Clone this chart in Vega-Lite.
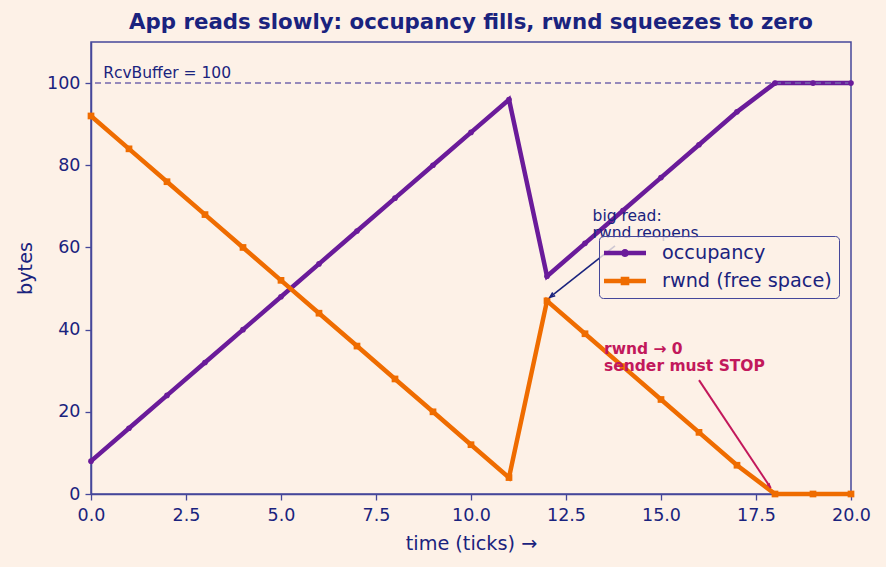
{
  "$schema": "https://vega.github.io/schema/vega-lite/v6.json",
  "autosize": {"type": "none"},
  "width": 760,
  "height": 452,
  "padding": {"left": 91, "top": 42, "right": 35, "bottom": 73},
  "background": "#fdf1e7",
  "title": {"text": "App reads slowly: occupancy fills, rwnd squeezes to zero", "font": "DejaVu Sans", "fontSize": 21.3, "fontWeight": "bold", "color": "#1a237e", "anchor": "middle", "frame": "group", "baseline": "alphabetic", "offset": 13, "dy": 21},
  "config": {
    "font": "DejaVu Sans",
    "view": {"stroke": "#45479a", "strokeWidth": 1.5, "fill": "#fdf1e7"},
    "axis": {"domainColor": "#45479a", "domainWidth": 1.5, "ticks": true, "tickColor": "#45479a", "tickWidth": 1.3, "tickSize": 6, "labelFont": "DejaVu Sans", "labelFontSize": 17.5, "labelColor": "#1a237e", "labelFlush": false, "titleFont": "DejaVu Sans", "titleFontSize": 19.25, "titleFontWeight": "normal", "titleColor": "#1a237e", "grid": false, "labelPadding": 4}
  },
  "datasets": {
    "series": [
      {"t": 0, "v": 8, "series": "occupancy"}, {"t": 1, "v": 16, "series": "occupancy"}, {"t": 2, "v": 24, "series": "occupancy"}, {"t": 3, "v": 32, "series": "occupancy"}, {"t": 4, "v": 40, "series": "occupancy"}, {"t": 5, "v": 48, "series": "occupancy"}, {"t": 6, "v": 56, "series": "occupancy"}, {"t": 7, "v": 64, "series": "occupancy"}, {"t": 8, "v": 72, "series": "occupancy"}, {"t": 9, "v": 80, "series": "occupancy"}, {"t": 10, "v": 88, "series": "occupancy"}, {"t": 11, "v": 96, "series": "occupancy"}, {"t": 12, "v": 53, "series": "occupancy"}, {"t": 13, "v": 61, "series": "occupancy"}, {"t": 14, "v": 69, "series": "occupancy"}, {"t": 15, "v": 77, "series": "occupancy"}, {"t": 16, "v": 85, "series": "occupancy"}, {"t": 17, "v": 93, "series": "occupancy"}, {"t": 18, "v": 100, "series": "occupancy"}, {"t": 19, "v": 100, "series": "occupancy"}, {"t": 20, "v": 100, "series": "occupancy"},
      {"t": 0, "v": 92, "series": "rwnd (free space)"}, {"t": 1, "v": 84, "series": "rwnd (free space)"}, {"t": 2, "v": 76, "series": "rwnd (free space)"}, {"t": 3, "v": 68, "series": "rwnd (free space)"}, {"t": 4, "v": 60, "series": "rwnd (free space)"}, {"t": 5, "v": 52, "series": "rwnd (free space)"}, {"t": 6, "v": 44, "series": "rwnd (free space)"}, {"t": 7, "v": 36, "series": "rwnd (free space)"}, {"t": 8, "v": 28, "series": "rwnd (free space)"}, {"t": 9, "v": 20, "series": "rwnd (free space)"}, {"t": 10, "v": 12, "series": "rwnd (free space)"}, {"t": 11, "v": 4, "series": "rwnd (free space)"}, {"t": 12, "v": 47, "series": "rwnd (free space)"}, {"t": 13, "v": 39, "series": "rwnd (free space)"}, {"t": 14, "v": 31, "series": "rwnd (free space)"}, {"t": 15, "v": 23, "series": "rwnd (free space)"}, {"t": 16, "v": 15, "series": "rwnd (free space)"}, {"t": 17, "v": 7, "series": "rwnd (free space)"}, {"t": 18, "v": 0, "series": "rwnd (free space)"}, {"t": 19, "v": 0, "series": "rwnd (free space)"}, {"t": 20, "v": 0, "series": "rwnd (free space)"}
    ],
    "cap": [{"v": 100}],
    "note_buf": [{"t": 0.32, "v": 101.3, "label": "RcvBuffer = 100"}],
    "note_read": [{"t": 13.2, "v": 66.4, "label": "big read:\nrwnd reopens"}],
    "note_stop": [{"t": 13.5, "v": 34.1, "label": "rwnd → 0\nsender must STOP"}],
    "arrow_read": [{"t": 13.79, "v": 60.4, "t2": 12.08, "v2": 47.9}],
    "arrow_stop": [{"t": 16.0, "v": 27.7, "t2": 17.89, "v2": 1.46}]
  },
  "layer": [
    {
      "data": {"name": "series"},
      "mark": {"type": "line", "strokeWidth": 4.5},
      "encoding": {
        "x": {"field": "t", "type": "quantitative", "scale": {"domain": [0, 20], "nice": false, "zero": false}, "axis": {"title": "time (ticks)  →", "values": [0, 2.5, 5, 7.5, 10, 12.5, 15, 17.5, 20], "format": ".1f", "labelPadding": 6, "titleX": 380, "titleY": 49, "titleBaseline": "middle"}},
        "y": {"field": "v", "type": "quantitative", "scale": {"domain": [0, 110], "nice": false}, "axis": {"title": "bytes", "values": [0, 20, 40, 60, 80, 100], "labelPadding": 5, "titleX": -66, "titleY": 226, "titleBaseline": "middle", "titleAlign": "center", "titleAngle": -90}},
        "color": {"field": "series", "type": "nominal", "scale": {"domain": ["occupancy", "rwnd (free space)"], "range": ["#6a1b9a", "#ef6c00"]},
          "legend": {"orient": "none", "legendX": 508, "legendY": 194, "title": null, "labelFontSize": 19.25, "labelColor": "#1a237e", "labelFont": "DejaVu Sans", "labelLimit": 400, "symbolSize": 441, "symbolOffset": 9, "labelOffset": 26.5, "rowPadding": 7, "padding": 6.5, "strokeColor": "#45479a", "fillColor": "rgba(253,241,231,0.8)", "cornerRadius": 4,
            "encoding": {"symbols": {
              "shape": {"value": {"expr": "datum.value === 'occupancy' ? 'M-2,-0.214 L2,-0.214 L2,0.214 L-2,0.214 Z M0.38,0 A0.38,0.38 0 1,1 -0.38,0 A0.38,0.38 0 1,1 0.38,0 Z' : 'M-2,-0.214 L2,-0.214 L2,0.214 L-2,0.214 Z M-0.41,-0.41 L0.41,-0.41 L0.41,0.41 L-0.41,0.41 Z'"}},
              "fill": {"value": {"expr": "scale('color', datum.value)"}},
              "stroke": {"value": "transparent"},
              "strokeWidth": {"value": 0},
              "opacity": {"value": 1},
              "fillOpacity": {"value": 1}
            }}
          }
        }
      }
    },
    {
      "data": {"name": "cap"},
      "mark": {"type": "rule", "color": "#7467ad", "strokeWidth": 1.5, "strokeDash": [6, 4]},
      "encoding": {"y": {"field": "v", "type": "quantitative"}}
    },
    {
      "data": {"name": "series"},
      "transform": [{"filter": "datum.series === 'occupancy'"}],
      "mark": {"type": "point", "shape": "circle", "filled": true, "opacity": 1, "size": 32, "color": "#6a1b9a"},
      "encoding": {
        "x": {"field": "t", "type": "quantitative"},
        "y": {"field": "v", "type": "quantitative"}
      }
    },
    {
      "data": {"name": "series"},
      "transform": [{"filter": "datum.series !== 'occupancy'"}],
      "mark": {"type": "point", "shape": "square", "filled": true, "opacity": 1, "size": 45, "color": "#ef6c00"},
      "encoding": {
        "x": {"field": "t", "type": "quantitative"},
        "y": {"field": "v", "type": "quantitative"}
      }
    },
    {
      "data": {"name": "note_buf"},
      "mark": {"type": "text", "align": "left", "baseline": "alphabetic", "fontSize": 15.5, "color": "#1a237e"},
      "encoding": {"x": {"field": "t", "type": "quantitative"}, "y": {"field": "v", "type": "quantitative"}, "text": {"field": "label"}}
    },
    {
      "data": {"name": "note_read"},
      "mark": {"type": "text", "align": "left", "baseline": "alphabetic", "fontSize": 15.5, "color": "#1a237e", "lineBreak": "\n", "lineHeight": 17},
      "encoding": {"x": {"field": "t", "type": "quantitative"}, "y": {"field": "v", "type": "quantitative"}, "text": {"field": "label"}}
    },
    {
      "data": {"name": "note_stop"},
      "mark": {"type": "text", "align": "left", "baseline": "alphabetic", "fontSize": 15.5, "fontWeight": "bold", "color": "#c2185b", "lineBreak": "\n", "lineHeight": 17},
      "encoding": {"x": {"field": "t", "type": "quantitative"}, "y": {"field": "v", "type": "quantitative"}, "text": {"field": "label"}}
    },
    {
      "data": {"name": "arrow_read"},
      "mark": {"type": "rule", "color": "#1a237e", "strokeWidth": 1.6},
      "encoding": {"x": {"field": "t", "type": "quantitative"}, "y": {"field": "v", "type": "quantitative"}, "x2": {"field": "t2"}, "y2": {"field": "v2"}}
    },
    {
      "data": {"name": "arrow_read"},
      "mark": {"type": "point", "shape": "M-0.8,2 L0,0 L0.8,2", "filled": false, "size": 25, "stroke": "#1a237e", "strokeWidth": 1.6, "opacity": 1, "angle": 232},
      "encoding": {"x": {"field": "t2", "type": "quantitative"}, "y": {"field": "v2", "type": "quantitative"}}
    },
    {
      "data": {"name": "arrow_stop"},
      "mark": {"type": "rule", "color": "#c2185b", "strokeWidth": 2},
      "encoding": {"x": {"field": "t", "type": "quantitative"}, "y": {"field": "v", "type": "quantitative"}, "x2": {"field": "t2"}, "y2": {"field": "v2"}}
    },
    {
      "data": {"name": "arrow_stop"},
      "mark": {"type": "point", "shape": "M0,0 L-0.8,2 L0.8,2 Z", "filled": true, "size": 25, "color": "#c2185b", "opacity": 1, "angle": 146},
      "encoding": {"x": {"field": "t2", "type": "quantitative"}, "y": {"field": "v2", "type": "quantitative"}}
    }
  ]
}
